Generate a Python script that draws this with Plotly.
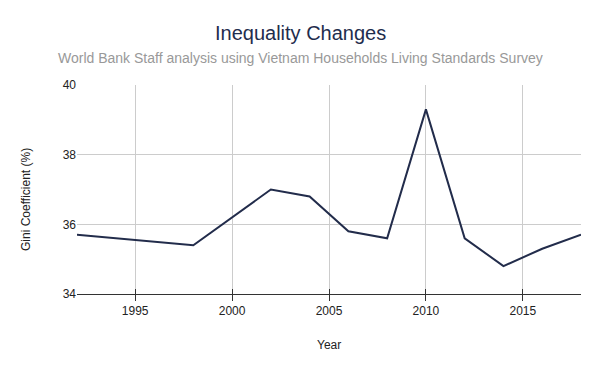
import plotly.graph_objects as go

years = [1992, 1998, 2002, 2004, 2006, 2008, 2010, 2012, 2014, 2016, 2018]
gini = [35.7, 35.4, 37.0, 36.8, 35.8, 35.6, 39.3, 35.6, 34.8, 35.3, 35.7]
x_ticks = [1995, 2000, 2005, 2010, 2015]
y_ticks = [34, 36, 38, 40]

title_text = "Inequality Changes"
subtitle_text = "World Bank Staff analysis using Vietnam Households Living Standards Survey"
x_title = "Year"
y_title = "Gini Coefficient (%)"

fig = go.Figure()
fig.add_trace(go.Scatter(x=years, y=gini, mode="lines",
                         line=dict(color="#222c4b", width=2)))

W, H = 600, 371
L, R, T, B = 77, 19, 85, 77
PW, PH = W - L - R, H - T - B

fig.update_layout(
    width=W, height=H,
    margin=dict(l=L, r=R, t=T, b=B, autoexpand=False),
    paper_bgcolor="white", plot_bgcolor="white",
    font=dict(family="Liberation Sans, Arial, sans-serif", size=12, color="#222222"),
    showlegend=False,
)
cx = (W / 2 - L) / PW
fig.add_annotation(text=title_text, xref="paper", yref="paper", x=cx, y=1,
                   yshift=52, showarrow=False, xanchor="center", yanchor="middle",
                   font=dict(size=20, color="#1f2d4d"))
fig.add_annotation(text=subtitle_text, xref="paper", yref="paper", x=cx, y=1,
                   yshift=27, showarrow=False, xanchor="center", yanchor="middle",
                   font=dict(size=14, color="#999999"))
fig.add_annotation(text=y_title, xref="paper", yref="paper", x=0, y=(H - B - 200) / PH,
                   xshift=26 - L, showarrow=False, xanchor="center", yanchor="middle",
                   textangle=-90, font=dict(size=12, color="#222222"))
fig.add_annotation(text=x_title, xref="paper", yref="paper", x=(329 - L) / PW, y=0,
                   yshift=-(345 - (H - B)), showarrow=False, xanchor="center", yanchor="middle",
                   font=dict(size=12, color="#222222"))

fig.update_layout(
    xaxis=dict(range=[1992, 2018], tickvals=x_ticks, showgrid=True, automargin=False,
               gridcolor="#cccccc", gridwidth=1, showline=True, linecolor="#333333",
               linewidth=1, ticks="outside", ticklen=6, tickcolor="#333333",
               zeroline=False),
    xaxis2=dict(range=[1992, 2018], tickvals=x_ticks, overlaying="x", anchor="y",
                side="bottom", showgrid=False, showline=False, ticks="inside",
                ticklen=5, tickcolor="#333333", showticklabels=False, zeroline=False,
                automargin=False),
    yaxis=dict(range=[34, 40], tickvals=y_ticks, showgrid=True, automargin=False,
               gridcolor="#cccccc", gridwidth=1, showline=False, ticks="",
               zeroline=False),
)
fig.add_trace(go.Scatter(x=[], y=[], xaxis="x2", yaxis="y", showlegend=False,
                         hoverinfo="skip"))

fig.write_html("out.html", config={"displayModeBar": False},
               post_script="document.body.style.margin='0';")
